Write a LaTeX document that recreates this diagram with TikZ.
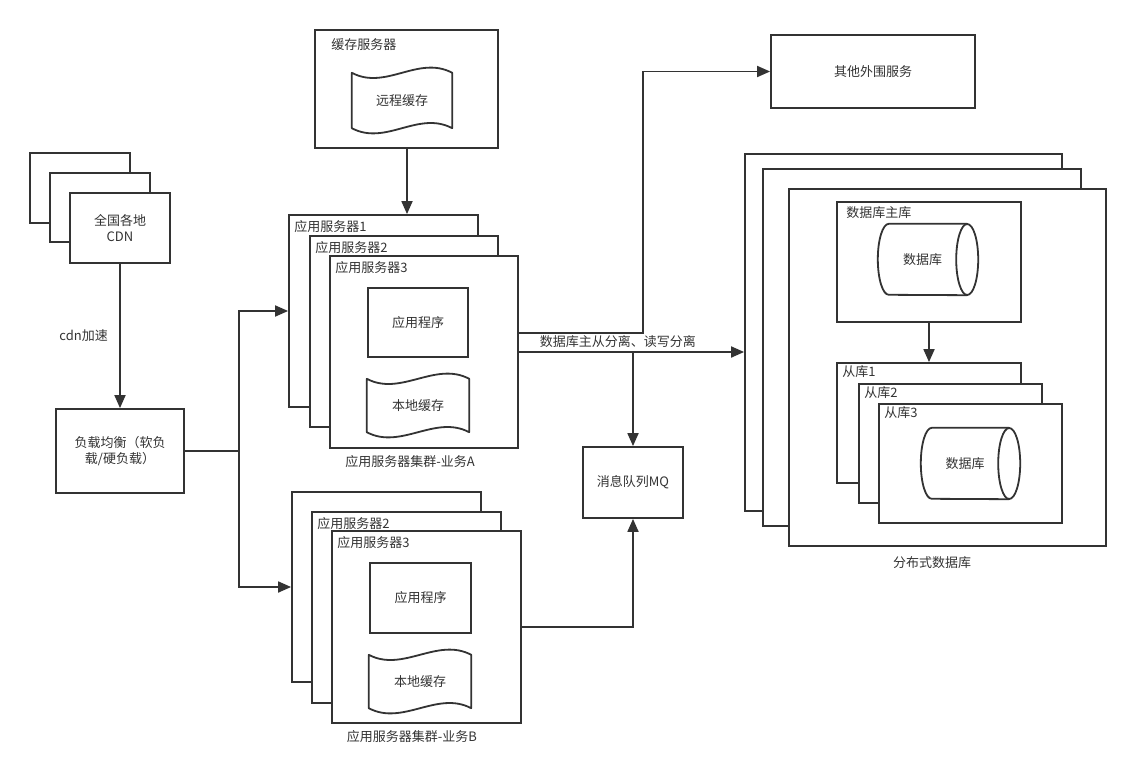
\documentclass[tikz,border=0pt]{standalone}
\usepackage{fontspec}
\setmainfont{Noto Sans CJK SC}
\usetikzlibrary{arrows.meta}
\definecolor{linec}{HTML}{333333}

\begin{document}
\begin{tikzpicture}[x=1pt,y=-1pt,>={Triangle[length=13pt,width=11pt]},
    every node/.style={font=\fontsize{13}{16}\selectfont,text=linec},
    box/.style={draw=linec,line width=1.8pt,fill=white,inner sep=0pt,align=center},
    tag/.style={anchor=north west,inner sep=0pt,xshift=6pt,yshift=-6pt},
    link/.style={draw=linec,line width=1.8pt,->},
    wave/.style={draw=linec,line width=1.8pt,line join=round},
    tapebox/.style={minimum width=101pt,minimum height=54pt,inner sep=0pt,
      append after command={\pgfextra{\draw[wave] (\tikzlastnode.north west)
        .. controls +(34,18) and +(-34,-18) .. (\tikzlastnode.north east)
        -- (\tikzlastnode.south east)
        .. controls +(-34,-18) and +(34,18) .. (\tikzlastnode.south west) -- cycle;}}},
    dbcyl/.style={minimum width=89pt,minimum height=71pt,inner sep=0pt,
      append after command={\pgfextra{\draw[wave] (\tikzlastnode.north east)
        -- ([xshift=11pt]\tikzlastnode.north west)
        arc[start angle=90,end angle=270,x radius=11pt,y radius=35.5pt]
        -- (\tikzlastnode.south east);
        \draw[wave] (\tikzlastnode.east) ellipse[x radius=11pt,y radius=35.5pt];}}}]

  \useasboundingbox (0,0) rectangle (1131,778);

  % cdn
  \node[box,minimum width=100pt,minimum height=70pt] (cdn1) at (80,188) {};
  \node[box,minimum width=100pt,minimum height=69pt] (cdn2) at (100,207.5) {};
  \node[box,minimum width=100pt,minimum height=70pt] (cdn) at (120,228) {全国各地\\CDN};

  \node[box,minimum width=128pt,minimum height=84pt] (lb) at (120,451) {负载均衡（软负\\载/硬负载）};

  % cache server
  \node[box,minimum width=183pt,minimum height=118pt,
        label={[tag,xshift=11pt,yshift=-3pt]north west:缓存服务器}] (cachesrv) at (406.5,89) {};
  \node[tapebox,minimum width=100pt,minimum height=55pt] (rcache) at (402,100.5) {远程缓存};

  % cluster A
  \node[box,minimum width=189pt,minimum height=192pt,
        label={[tag]north west:应用服务器1}] (asrv1) at (383.5,311) {};
  \node[box,minimum width=188pt,minimum height=191pt,
        label={[tag]north west:应用服务器2}] (asrv2) at (404,331.5) {};
  \node[box,minimum width=188pt,minimum height=192pt,
        label={[tag]north west:应用服务器3}] (asrv3) at (424,352) {};
  \node[box,minimum width=100pt,minimum height=69pt] (aprog) at (418,322.5) {应用程序};
  \node[tapebox,minimum width=102pt,minimum height=53pt] (acache) at (418,405.5) {本地缓存};
  \node (capa) at (410,462) {应用服务器集群-业务A};

  % cluster B
  \node[box,minimum width=189pt,minimum height=190pt] (bsrv1) at (386.5,587) {};
  \node[box,minimum width=189pt,minimum height=191pt,
        label={[tag]north west:应用服务器2}] (bsrv2) at (406.5,607.5) {};
  \node[box,minimum width=189pt,minimum height=192pt,
        label={[tag]north west:应用服务器3}] (bsrv3) at (426.5,627) {};
  \node[box,minimum width=101pt,minimum height=70pt] (bprog) at (420.5,598) {应用程序};
  \node[tapebox,minimum width=102pt,minimum height=53pt] (bcache) at (420,681.5) {本地缓存};
  \node (capb) at (412,737) {应用服务器集群-业务B};

  \node[box,minimum width=100pt,minimum height=71pt] (mq) at (633,482.5) {消息队列MQ};
  \node[box,minimum width=204pt,minimum height=73pt] (other) at (873,71.5) {其他外围服务};

  % distributed database
  \node[box,minimum width=317pt,minimum height=357pt] (db1) at (903.5,332.5) {};
  \node[box,minimum width=318pt,minimum height=357pt] (db2) at (922,347.5) {};
  \node[box,minimum width=317pt,minimum height=357pt] (db3) at (947.5,367.5) {};
  \node (capdb) at (932,563) {分布式数据库};

  \node[box,minimum width=184pt,minimum height=120pt,
        label={[tag,xshift=4pt,yshift=1pt]north west:数据库主库}] (master) at (929,262) {};
  \node[dbcyl] (mdb) at (922.5,259.5) {数据库};

  \node[box,minimum width=184pt,minimum height=120pt,
        label={[tag,yshift=3pt]north west:从库1}] (slave1) at (929,423) {};
  \node[box,minimum width=183pt,minimum height=119pt,
        label={[tag,yshift=3pt]north west:从库2}] (slave2) at (950.5,443.5) {};
  \node[box,minimum width=183pt,minimum height=119pt,
        label={[tag,yshift=3pt]north west:从库3}] (slave3) at (970.5,463.5) {};
  \node[dbcyl,minimum width=88pt] (sdb) at (965,463.5) {数据库};

  % connectors
  \coordinate (fork) at (239,451);
  \coordinate (up) at (643,333);

  \draw[link] (cdn.south) -- (lb.north) node[midway,left=8pt] {cdn加速};
  \draw[link] (lb.east) -- (fork) |- (asrv1.west);
  \draw[link] (fork) |- (bsrv1.west);
  \draw[link] (cachesrv.south -| 407,0) -- (asrv1.north -| 407,0);
  \draw[link] (asrv3.east |- up) -- (up) |- (other.west);
  \draw[link] (asrv3.east) -- (db1.west |- asrv3.east)
    node[pos=0.44,above=0pt] {数据库主从分离、读写分离};
  \draw[link] (mq.north |- asrv3.east) -- (mq.north);
  \draw[link] (bsrv3.east) -| (mq.south);
  \draw[link] (master.south) -- (slave1.north);
\end{tikzpicture}
\end{document}
